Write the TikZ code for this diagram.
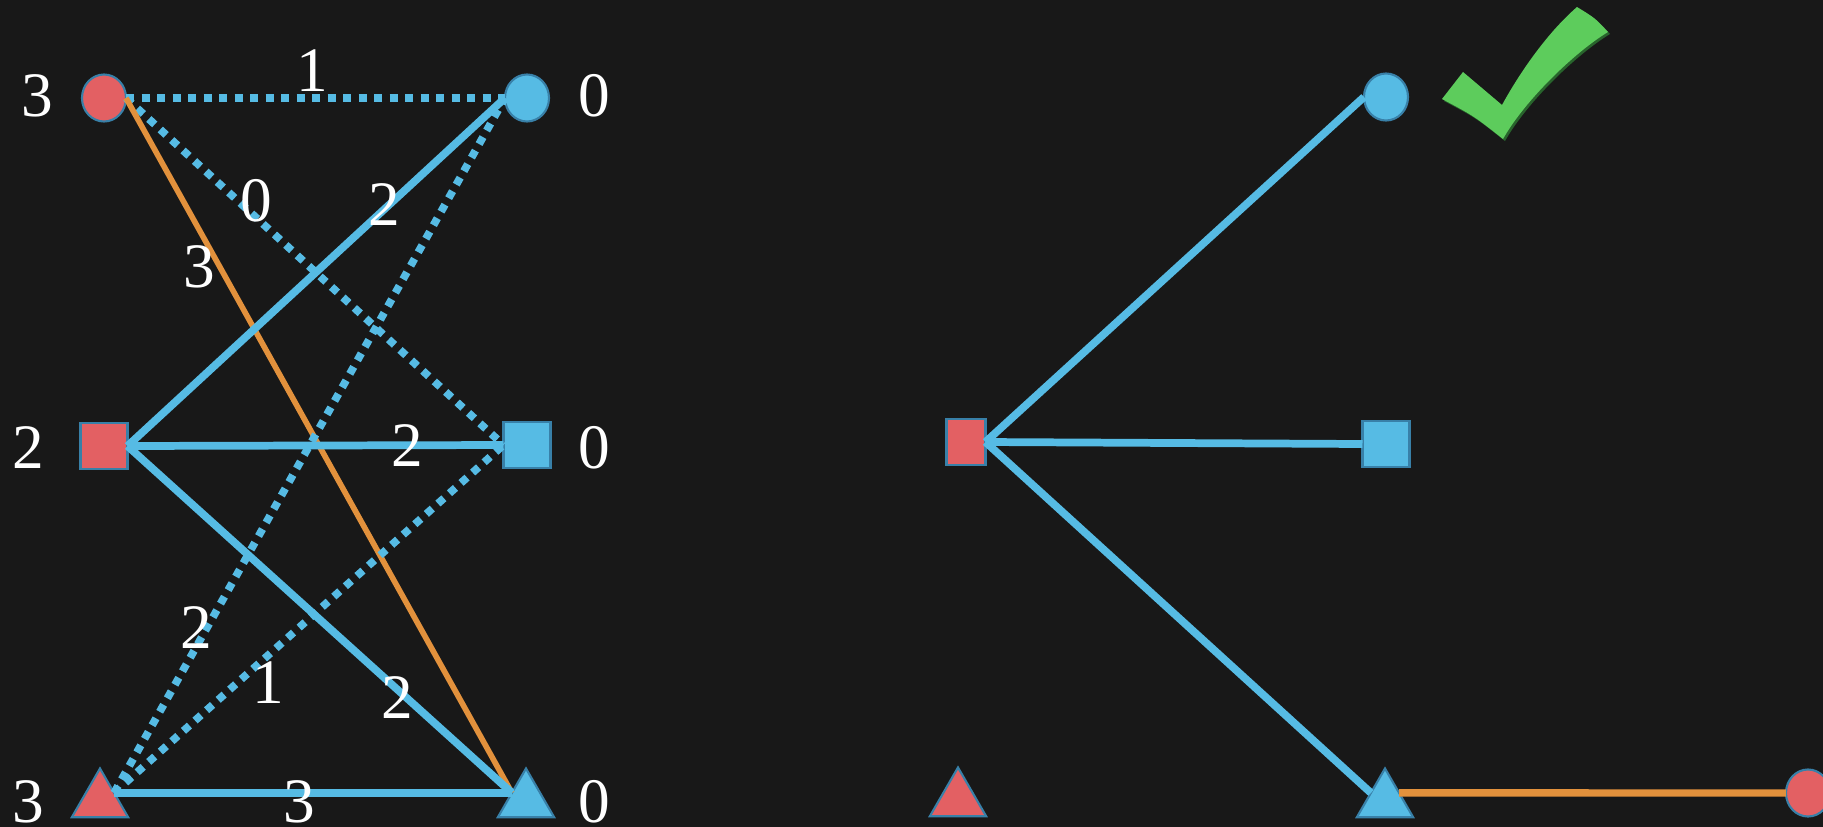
\documentclass[tikz,border=0pt]{standalone}
\usepackage{fontspec}
\setmainfont{Liberation Serif}
\usetikzlibrary{shapes.geometric}

\definecolor{board}{RGB}{24,24,24}
\definecolor{nodeblue}{RGB}{86,187,228}
\definecolor{rimblue}{RGB}{56,128,168}
\definecolor{nodered}{RGB}{227,96,99}
\definecolor{pathorange}{RGB}{226,145,60}
\definecolor{tickgreen}{RGB}{93,204,92}
\definecolor{tickshade}{RGB}{40,100,44}

\tikzset{
  vert/.style={draw=rimblue, line width=0.6pt, inner sep=0pt, outer sep=0pt},
  redv/.style={vert, fill=nodered},
  bluev/.style={vert, fill=nodeblue},
  circv/.style={ellipse, minimum width=0.44cm, minimum height=0.47cm},
  sqv/.style={rectangle, minimum width=0.47cm, minimum height=0.46cm},
  triv/.style={regular polygon, regular polygon sides=3, minimum size=0.65cm},
  num/.style={text=white, font=\fontsize{18}{22}\selectfont, inner sep=0pt},
  tightedge/.style={nodeblue, line width=2.2pt},
  slackedge/.style={nodeblue, line width=2.2pt, dash pattern=on 0.08cm off 0.075cm},
  matchedge/.style={pathorange, line width=1.6pt},
}

\begin{document}
\begin{tikzpicture}[x=0.01cm, y=-0.01cm]
    \fill[board, use as bounding box] (0,0) rectangle (1823,827);
    \clip (0,0) rectangle (1823,827);

    % Left: all pairs
    \node[redv, circv] (rc) at (104,98) {};
    \node[redv, sqv] (rs) at (104,446) {};
    \node[redv, triv] (rt) at (100,801) {};
    \node[bluev, circv] (bc) at (527,98) {};
    \node[bluev, sqv] (bs) at (527,445) {};
    \node[bluev, triv] (bt) at (526,801) {};

    \draw[slackedge] (rc.east) -- (bc.west);
    \draw[slackedge] (rc.east) -- (bs.west);
    \draw[matchedge] (rc.east) -- (bt.side 1);
    \draw[tightedge] (rs.east) -- (bc.west);
    \draw[tightedge] (rs.east) -- (bs.west);
    \draw[tightedge] (rs.east) -- (bt.side 1);
    \draw[slackedge] (rt.side 3) -- (bc.west);
    \draw[slackedge] (rt.side 3) -- (bs.west);
    \draw[tightedge] (rt.side 3) -- (bt.side 1);

    \node[num] (lrc) at (37,96) {3};
    \node[num] (lrs) at (28,448) {2};
    \node[num] (lrt) at (28,802) {3};
    \node[num] (lbc) at (594,96) {0};
    \node[num] (lbs) at (594,448) {0};
    \node[num] (lbt) at (594,802) {0};

    \node[num] (w11) at (312,71) {1};
    \node[num] (w12) at (256,201) {0};
    \node[num] (w13) at (199,267) {3};
    \node[num] (w21) at (384,205) {2};
    \node[num] (w22) at (407,446) {2};
    \node[num] (w23) at (397,698) {2};
    \node[num] (w31) at (196,628) {2};
    \node[num] (w32) at (268,683) {1};
    \node[num] (w33) at (299,802) {3};

    % Right: tight edges only
    \begin{scope}[shift={(860,0)}]
        \node[redv, sqv, minimum width=0.39cm] (rsB) at (106,442) {};
        \node[redv, triv] (rtB) at (98,800) {};
        \node[bluev, circv] (bcB) at (526,97) {};
        \node[bluev, sqv] (bsB) at (526,444) {};
        \node[bluev, triv] (btB) at (525,801) {};
        \node[redv, circv] (rcB) at (948,793) {};

        \draw[tightedge] (rsB.east) -- (bcB.west);
        \draw[tightedge] (rsB.east) -- (bsB.west);
        \draw[tightedge] (rsB.east) -- (btB.side 1);
        \draw[matchedge, line width=2.1pt] (btB.side 3) -- (rcB.west);

        \begin{scope}[shift={(2,2)}]
            \fill[tickshade] (582,99) -- (603,72) -- (642,105)
                .. controls (659,74) and (686,34) .. (717,7) .. controls (735,18) .. (748,32)
                .. controls (715,52) and (665,100) .. (643,139) .. controls (614,116) .. cycle;
        \end{scope}
        \fill[tickgreen] (582,99) -- (603,72) -- (642,105)
            .. controls (659,74) and (686,34) .. (717,7) .. controls (735,18) .. (748,32)
            .. controls (715,52) and (665,100) .. (643,139) .. controls (614,116) .. cycle;
    \end{scope}
\end{tikzpicture}
\end{document}
